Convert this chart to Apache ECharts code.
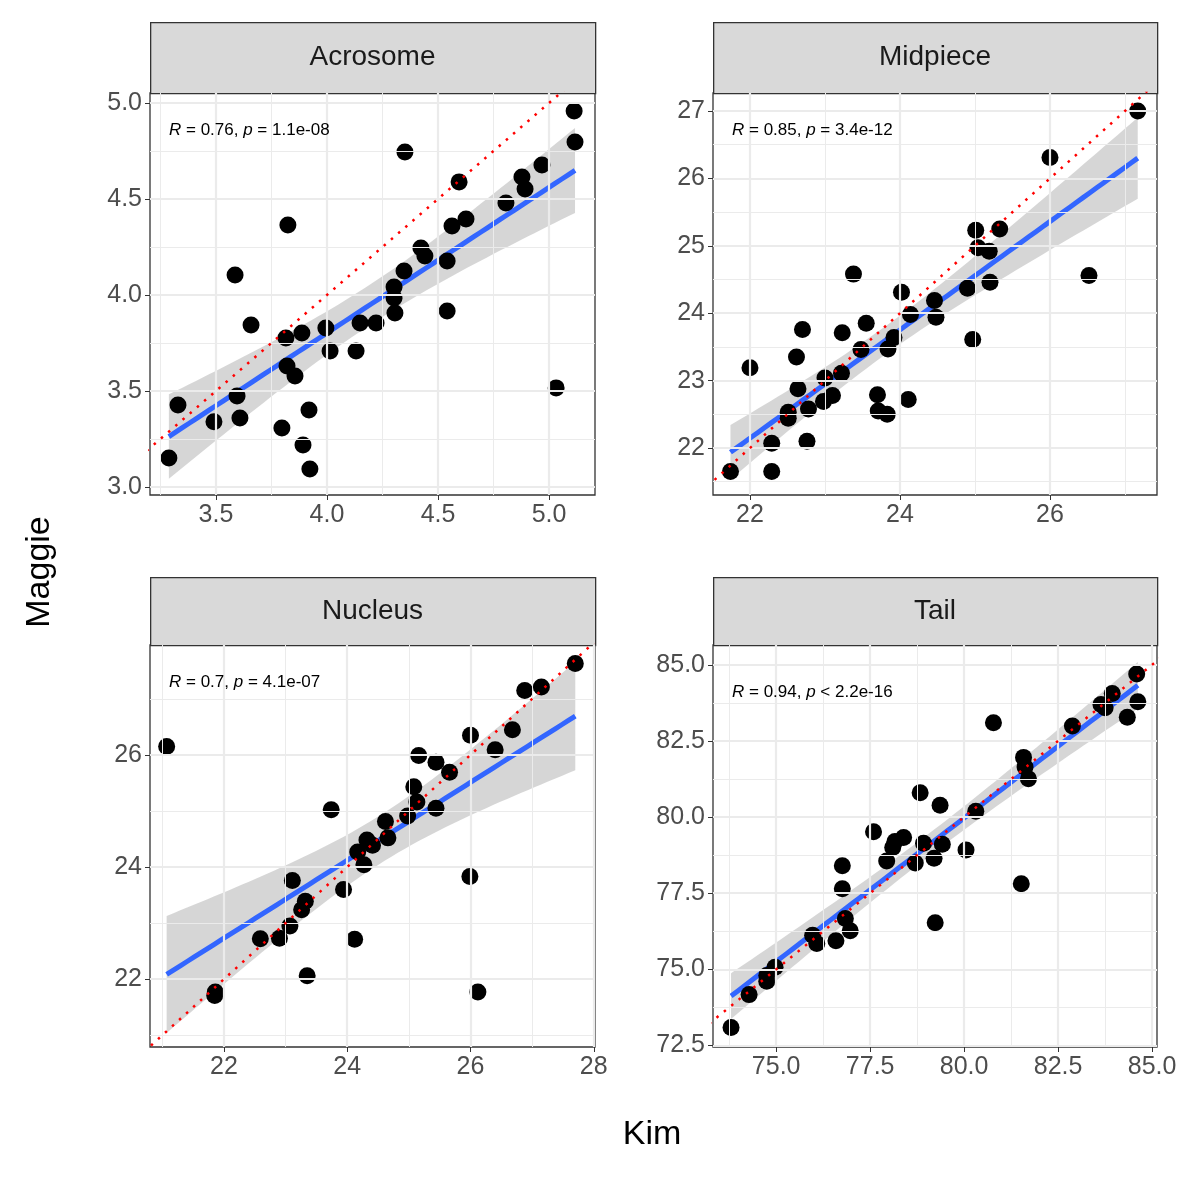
<!DOCTYPE html>
<html><head><meta charset="utf-8">
<script src="https://cdn.jsdelivr.net/npm/echarts@6/dist/echarts.min.js"></script>
<style>html,body{margin:0;padding:0;background:#fff}#c{width:1181px;height:1181px}</style>
</head><body><div id="c"></div>
<script>
const panelNames = ["Acrosome","Midpiece","Nucleus","Tail"];
const statLabels = [["0.76","= 1.1e-08"],["0.85","= 3.4e-12"],["0.7","= 4.1e-07"],["0.94","< 2.2e-16"]];
const acrosomeKim = [3.288,3.329,3.491,3.595,3.608,3.586,3.658,3.797,3.824,3.815,3.820,3.856,3.887,3.892,3.919,3.923,3.995,4.014,4.131,4.149,4.221,4.306,4.302,4.302,4.347,4.351,4.423,4.441,4.541,4.541,4.563,4.626,4.595,4.806,4.878,4.892,4.968,5.032,5.117,5.113];
const acrosomeMaggie = [3.151,3.427,3.339,3.474,3.359,4.104,3.844,3.307,4.365,3.776,3.630,3.578,3.802,3.219,3.401,3.094,3.828,3.708,3.708,3.854,3.854,3.906,3.984,4.042,4.125,4.745,4.245,4.203,4.177,3.917,4.359,4.396,4.589,4.479,4.615,4.552,4.677,3.516,4.797,4.958];
const midpieceKim = [21.74,22.29,22.29,22.0,22.76,22.51,22.51,22.78,22.64,22.62,22.70,22.98,23.10,23.0,23.22,23.23,23.38,23.48,23.55,23.70,23.71,23.83,23.84,23.92,24.02,24.11,24.14,24.46,24.48,24.90,24.97,25.01,25.04,25.19,25.20,25.33,26.0,26.52,27.17];
const midpieceMaggie = [21.65,21.65,22.07,23.19,22.10,22.44,22.53,22.58,22.88,23.35,23.76,22.69,22.78,23.04,23.11,23.71,24.58,23.46,23.85,22.79,22.55,22.50,23.47,23.64,24.31,22.72,23.98,24.19,23.94,24.37,23.61,25.23,24.97,24.92,24.46,25.25,26.31,24.56,27.00];
const nucleusKim = [21.07,21.85,21.86,22.59,22.90,23.07,23.11,23.26,23.32,23.35,23.74,23.94,24.12,24.17,24.27,24.32,24.41,24.62,24.66,24.98,25.08,25.13,25.16,25.44,25.44,25.66,25.99,26.0,26.12,26.40,26.68,26.88,27.15,27.70];
const nucleusMaggie = [26.15,21.71,21.77,22.72,22.73,22.95,23.76,23.24,23.39,22.06,25.02,23.60,22.71,24.27,24.04,24.48,24.39,24.81,24.52,24.91,25.43,25.16,25.99,25.87,25.05,25.69,23.83,26.35,21.77,26.09,26.45,27.15,27.21,27.63];
const tailKim = [73.80,74.28,74.75,74.75,74.97,75.97,76.08,76.59,76.84,76.97,76.76,76.76,77.59,77.94,78.10,78.16,78.39,78.70,78.83,78.92,79.20,79.36,79.42,79.23,80.05,80.31,80.78,81.52,81.58,81.62,81.71,82.88,83.64,83.75,83.94,84.34,84.62,84.59];
const tailMaggie = [73.09,74.17,74.61,74.80,75.07,76.12,75.85,75.94,76.67,76.27,77.65,78.40,79.52,78.56,79.00,79.20,79.33,78.49,80.80,79.14,78.65,80.39,79.11,76.53,78.92,80.19,83.10,77.81,81.96,81.64,81.26,82.99,83.70,83.59,84.06,83.28,83.79,84.70];
const xTicks = [[3.5,4.0,4.5,5.0],[22,24,26],[22,24,26,28],[75,77.5,80,82.5,85]];
const yTicks = [[3.0,3.5,4.0,4.5,5.0],[22,23,24,25,26,27],[22,24,26],[72.5,75,77.5,80,82.5,85]];
const xMinor = [[3.25,3.75,4.25,4.75],[21,23,25,27],[21,23,25,27],[73.75,76.25,78.75,81.25,83.75]];
const yMinor = [[3.25,3.75,4.25,4.75],[21.5,22.5,23.5,24.5,25.5,26.5],[21,23,25,27],[73.75,76.25,78.75,81.25,83.75]];
const xRange = [[3.203,5.207],[21.507,27.427],[20.80,28.02],[73.32,85.13]];
const yRange = [[2.958,5.052],[21.303,27.267],[20.79,27.96],[72.45,85.65]];
const decimals = [1,0,0,1];

const xs=[acrosomeKim,midpieceKim,nucleusKim,tailKim], ys=[acrosomeMaggie,midpieceMaggie,nucleusMaggie,tailMaggie];
const boxes=[{l:150,t:93,w:445,h:402},{l:713,t:93,w:444,h:402},{l:150,t:645,w:445,h:402},{l:713,t:645,w:444,h:402}];
const FONT="Liberation Sans, Arial, sans-serif";
const grid=[],xAxis=[],yAxis=[],series=[],graphic=[];
function fit(X,Y){const n=X.length;const mx=X.reduce((a,b)=>a+b)/n,my=Y.reduce((a,b)=>a+b)/n;let sxx=0,sxy=0;for(let i=0;i<n;i++){sxx+=(X[i]-mx)**2;sxy+=(X[i]-mx)*(Y[i]-my);}const b=sxy/sxx,a=my-b*mx;let sse=0;for(let i=0;i<n;i++)sse+=(Y[i]-a-b*X[i])**2;const s=Math.sqrt(sse/(n-2));const t=2.03;const x0=Math.min(...X),x1=Math.max(...X);const line=[],up=[],lo=[];for(let k=0;k<=60;k++){const x=x0+(x1-x0)*k/60;const y=a+b*x;const se=s*Math.sqrt(1/n+(x-mx)**2/sxx);line.push([x,y]);up.push([x,y+t*se]);lo.push([x,y-t*se]);}return {line,up,lo};}
for(let i=0;i<4;i++){
  const B=boxes[i];
  grid.push({left:B.l,top:B.t,width:B.w,height:B.h,show:true,borderColor:'#333333',borderWidth:1.3,backgroundColor:'#fff'});
  const lab={fontSize:25,color:'#4d4d4d',fontFamily:FONT,margin:8,formatter:v=>Number(v).toFixed(decimals[i])};
  xAxis.push({type:'value',gridIndex:i,min:xRange[i][0],max:xRange[i][1],splitLine:{show:false},axisLine:{show:false},
    axisTick:{show:true,length:5,lineStyle:{color:'#333'},customValues:xTicks[i]},axisLabel:Object.assign({customValues:xTicks[i]},lab)});
  yAxis.push({type:'value',gridIndex:i,min:yRange[i][0],max:yRange[i][1],splitLine:{show:false},axisLine:{show:false},
    axisTick:{show:true,length:5,lineStyle:{color:'#333'},customValues:yTicks[i]},axisLabel:Object.assign({customValues:yTicks[i]},lab)});
  const ml=[];
  xMinor[i].forEach(v=>ml.push({xAxis:v,lineStyle:{width:1}}));
  yMinor[i].forEach(v=>ml.push({yAxis:v,lineStyle:{width:1}}));
  xTicks[i].forEach(v=>ml.push({xAxis:v,lineStyle:{width:2.2}}));
  yTicks[i].forEach(v=>ml.push({yAxis:v,lineStyle:{width:2.2}}));
  series.push({type:'line',xAxisIndex:i,yAxisIndex:i,data:[],silent:true,markLine:{silent:true,symbol:'none',label:{show:false},lineStyle:{color:'#ebebeb',type:'solid'},data:ml,animation:false},z:0});
  const f=fit(xs[i],ys[i]);
  const poly=f.up.concat(f.lo.slice().reverse());
  series.push({type:'custom',xAxisIndex:i,yAxisIndex:i,data:[[0,0]],silent:true,z:2,clip:true,renderItem:(p,api)=>({type:'polygon',shape:{points:poly.map(q=>api.coord(q))},style:{fill:'rgba(153,153,153,0.4)'}})});
  series.push({type:'line',xAxisIndex:i,yAxisIndex:i,data:f.line,showSymbol:false,lineStyle:{color:'#3366FF',width:5},z:3,silent:true});
  series.push({type:'scatter',xAxisIndex:i,yAxisIndex:i,data:xs[i].map((x,k)=>[x,ys[i][k]]),symbolSize:17,itemStyle:{color:'#000',opacity:1},z:4});
  const lo=Math.min(xRange[i][0],yRange[i][0])-1, hi=Math.max(xRange[i][1],yRange[i][1])+1;
  series.push({type:'line',xAxisIndex:i,yAxisIndex:i,data:[[lo,lo],[hi,hi]],showSymbol:false,clip:true,lineStyle:{color:'#ff0000',width:2.5,type:[2.5,7]},z:5,silent:true});
  // strip
  const st=i<2?22:577, sh=i<2?71:68;
  graphic.push({type:'rect',left:B.l,top:st,shape:{width:B.w,height:sh},style:{fill:'#d9d9d9',stroke:'#333333',lineWidth:1.3}});
  graphic.push({type:'text',x:B.l+B.w/2,y:st+sh/2,style:{text:panelNames[i],fontSize:28,fill:'#1a1a1a',fontFamily:FONT,align:'center',verticalAlign:'middle'}});
  graphic.push({type:'text',x:B.l+19,y:B.t+(i==3?47:37),z:10,style:{text:'{i|R} = '+statLabels[i][0]+', {i|p} '+statLabels[i][1],fontSize:17,fill:'#000',fontFamily:FONT,verticalAlign:'middle',rich:{i:{fontStyle:'italic',fontSize:17,fontFamily:FONT}}}});
}
graphic.push({type:'text',x:652,y:1135,style:{text:'Kim',fontSize:34,fill:'#000',fontFamily:FONT,align:'center',verticalAlign:'middle'}});
graphic.push({type:'text',x:40,y:572,rotation:Math.PI/2,style:{text:'Maggie',fontSize:34,fill:'#000',fontFamily:FONT,align:'center',verticalAlign:'middle'}});
const chart=echarts.init(document.getElementById('c'));
chart.setOption({animation:false,backgroundColor:'#fff',grid,xAxis,yAxis,series,graphic});
</script></body></html>
